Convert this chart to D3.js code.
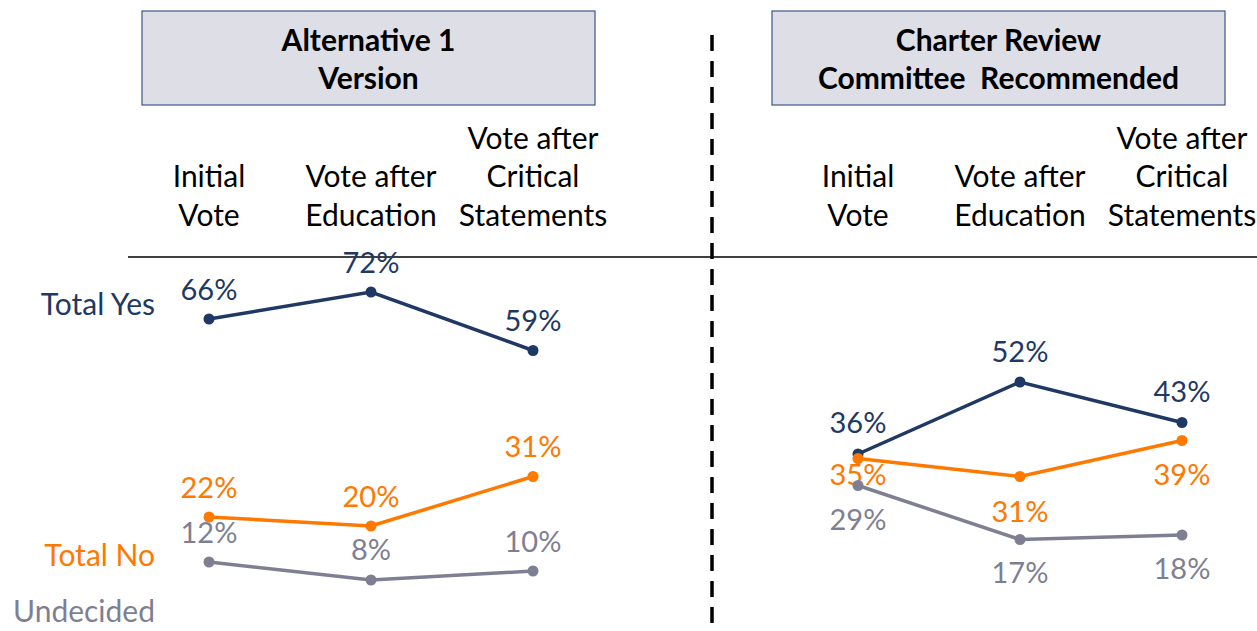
<!DOCTYPE html>
<html>
<head>
<meta charset="utf-8">
<script src="https://cdn.jsdelivr.net/npm/d3@7"></script>
<style>
  body { margin: 0; background: #fff; }
  svg { display: block; font-family: Lato, "Open Sans", sans-serif; }
</style>
</head>
<body>
<svg id="chart" width="1257" height="631"></svg>
<script>
var categories = ["Initial Vote", "Vote after Education", "Vote after Critical Statements"]
var categoryLines = [["Initial", "Vote"], ["Vote after", "Education"], ["Vote after", "Critical", "Statements"]]
var panelTitles = [["Alternative 1", "Version"], ["Charter Review", "Committee  Recommended"]]
var seriesNames = ["Total Yes", "Total No", "Undecided"]

var alt1Yes = [66, 72, 59]
var alt1No = [22, 20, 31]
var alt1Undecided = [12, 8, 10]

var crcYes = [36, 52, 43]
var crcNo = [35, 31, 39]
var crcUndecided = [29, 17, 18]

var colors = {
    "Total Yes": "#1f3864",
    "Total No": "#ff7800",
    "Undecided": "#7f7f93"
}

// label offsets (px from the point) for each series in each panel
var panels = [
    {title: panelTitles[0], box: 142, left: 209, series: [alt1Yes, alt1No, alt1Undecided],
     offs: [[-29, -29, -30], [-29, -29, -30], [-29, -30, -29]]},
    {title: panelTitles[1], box: 772, left: 858, series: [crcYes, crcNo, crcUndecided],
     offs: [[-31, -30, -31], [16, 35, 34], [34, 33, 34]]}
]

var svg = d3.select("#chart")

var y = d3.scaleLinear().domain([0, 100]).range([616, 166])

// divider lines
svg.append("line")
    .attr("x1", 128).attr("x2", 1257)
    .attr("y1", 257).attr("y2", 257)
    .attr("stroke", "#000").attr("stroke-width", 1.3)

svg.append("line")
    .attr("x1", 712).attr("x2", 712)
    .attr("y1", 35).attr("y2", 631)
    .attr("stroke", "#000").attr("stroke-width", 3.5)
    .attr("stroke-dasharray", "16,10")

// series names on the left
var nameY = {"Total Yes": 304, "Total No": 555, "Undecided": 611}
svg.selectAll("text.name")
    .data(seriesNames)
    .enter()
    .append("text")
    .attr("class", "name")
    .attr("x", 155)
    .attr("y", function(d) { return nameY[d] })
    .attr("dy", "0.35em")
    .attr("text-anchor", "end")
    .style("font-size", "30px")
    .attr("fill", function(d) { return colors[d] })
    .text(function(d) { return d })

panels.forEach(function(p) {
    var x = d3.scalePoint().domain(categories).range([p.left, p.left + 324])
    var g = svg.append("g")

    // title box
    g.append("rect")
        .attr("x", p.box).attr("y", 11)
        .attr("width", 453).attr("height", 94)
        .attr("fill", "#dedee6")
        .attr("stroke", "#3b5788").attr("stroke-width", 1.2)
    g.selectAll("text.title")
        .data(p.title)
        .enter()
        .append("text")
        .attr("x", p.box + 226.5)
        .attr("y", function(d, i) { return 40 + i * 38 })
        .attr("dy", "0.35em")
        .attr("text-anchor", "middle")
        .style("font-size", "30px")
        .style("font-weight", "bold")
        .style("white-space", "pre")
        .attr("fill", "#000")
        .text(function(d) { return d })

    // category headers, bottom aligned
    categories.forEach(function(c, ci) {
        var lines = categoryLines[ci]
        g.selectAll(null)
            .data(lines)
            .enter()
            .append("text")
            .attr("x", x(c))
            .attr("y", function(d, i) { return 215 - (lines.length - 1 - i) * 38.5 })
            .attr("dy", "0.35em")
            .attr("text-anchor", "middle")
            .style("font-size", "30px")
            .attr("fill", "#000")
            .text(function(d) { return d })
    })

    var line = d3.line()
        .x(function(d, i) { return x(categories[i]) })
        .y(function(d) { return y(d) })

    p.series.forEach(function(vals, si) {
        var name = seriesNames[si]
        var col = colors[name]
        g.append("path")
            .datum(vals)
            .attr("d", line)
            .attr("fill", "none")
            .attr("stroke", col)
            .attr("stroke-width", 3.5)
        g.selectAll(null)
            .data(vals)
            .enter()
            .append("circle")
            .attr("cx", function(d, i) { return x(categories[i]) })
            .attr("cy", function(d) { return y(d) })
            .attr("r", 5.5)
            .attr("fill", col)
        g.selectAll(null)
            .data(vals)
            .enter()
            .append("text")
            .attr("x", function(d, i) { return x(categories[i]) })
            .attr("y", function(d, i) { return y(d) + p.offs[si][i] })
            .attr("dy", "0.35em")
            .attr("text-anchor", "middle")
            .style("font-size", "29px")
            .attr("fill", col)
            .text(function(d) { return d + "%" })
    })
})
</script>
</body>
</html>
